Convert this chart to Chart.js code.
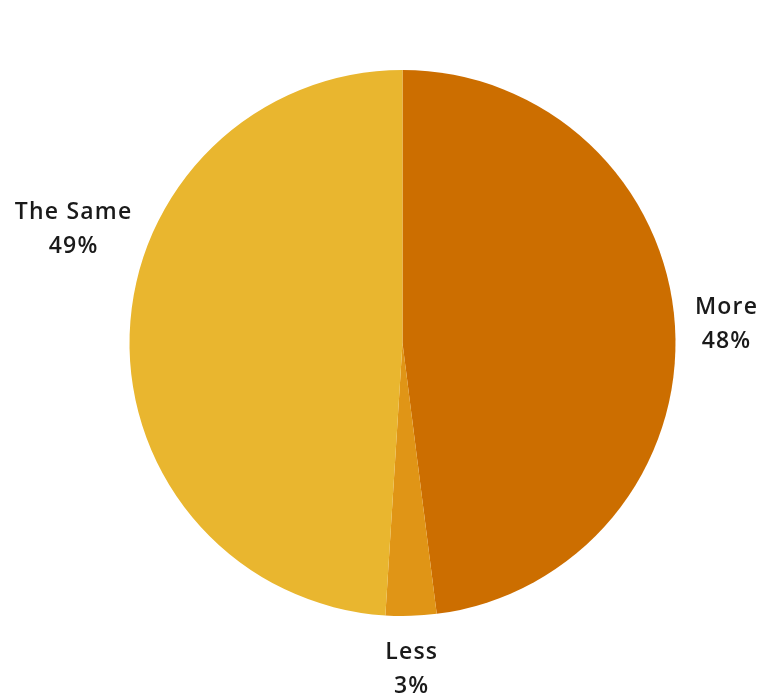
<!DOCTYPE html>
<html>
<head>
<meta charset="utf-8">
<script src="https://cdn.jsdelivr.net/npm/chart.js@4/dist/chart.umd.min.js"></script>
<style>
  html, body { margin: 0; padding: 0; background: #ffffff; }
  #wrap { width: 768px; height: 697px; position: relative; }
</style>
</head>
<body>
<div id="wrap"><canvas id="c" width="768" height="697"></canvas></div>
<script>
const categories = ["More", "Less", "The Same"];
const values = [48, 3, 49];
const sliceColors = ["#CC6E00", "#E09516", "#E9B62F"];
// small angular nudge (degrees) for each outside label
const labelAngleShift = [0, 0, 21];

const outsideLabels = {
  id: "outsideLabels",
  afterDatasetsDraw(chart) {
    const ctx = chart.ctx;
    const meta = chart.getDatasetMeta(0);
    ctx.save();
    ctx.font = "600 23px 'Open Sans', sans-serif";
    try { ctx.letterSpacing = "1.2px"; } catch (e) {}
    ctx.fillStyle = "#1a1a1a";
    ctx.textBaseline = "middle";
    const lineGap = 34;
    meta.data.forEach((arc, i) => {
      const mid = (arc.startAngle + arc.endAngle) / 2 + labelAngleShift[i] * Math.PI / 180;
      const r = arc.outerRadius + 20;
      const cx = Math.cos(mid), sy = Math.sin(mid);
      const x = arc.x + cx * r;
      const y = arc.y + sy * r;
      const lines = [categories[i], values[i] + "%"];
      const widths = lines.map(t => ctx.measureText(t).width);
      const blockW = Math.max(...widths);
      let centerX;
      if (cx > 0.4) centerX = x + blockW / 2;
      else if (cx < -0.4) centerX = x - blockW / 2;
      else centerX = x;
      let firstY;
      if (sy > 0.4) firstY = y + 17;
      else if (sy < -0.4) firstY = y - 17 - lineGap;
      else firstY = y - lineGap / 2;
      ctx.textAlign = "center";
      lines.forEach((t, k) => ctx.fillText(t, centerX, firstY + k * lineGap));
    });
    ctx.restore();
  }
};

new Chart(document.getElementById("c"), {
  type: "pie",
  data: {
    labels: categories,
    datasets: [{
      data: values,
      backgroundColor: sliceColors,
      borderWidth: 0
    }]
  },
  options: {
    responsive: false,
    animation: false,
    layout: { padding: { top: 70, bottom: 81, left: 129, right: 92 } },
    plugins: {
      legend: { display: false },
      tooltip: { enabled: false }
    }
  },
  plugins: [outsideLabels]
});
</script>
</body>
</html>
